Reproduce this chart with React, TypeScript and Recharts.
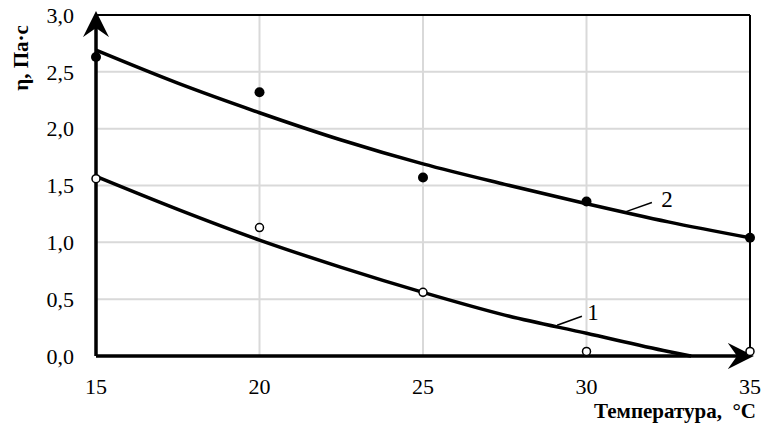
import React from 'react';
import {
  CartesianGrid,
  ComposedChart,
  Line,
  ReferenceLine,
  Scatter,
  XAxis,
  YAxis,
} from 'recharts';

// measured points, °C vs Pa·s
const temps = [15, 20, 25, 30, 35];
const etaSeries2 = [2.63, 2.32, 1.57, 1.36, 1.04]; // filled dots
const etaSeries1 = [1.56, 1.13, 0.56, 0.04, 0.04]; // open circles

// trend lines
const trend2X = [15, 17.5, 20, 22.5, 25, 27.5, 30, 32.5, 35];
const trend2Y = [2.69, 2.4, 2.14, 1.9, 1.69, 1.51, 1.34, 1.18, 1.04];
const trend1X = [15, 17.5, 20, 22.5, 25, 27.5, 30, 32.5, 33.2];
const trend1Y = [1.58, 1.29, 1.02, 0.78, 0.56, 0.36, 0.2, 0.04, 0];

const xTicks = [15, 20, 25, 30, 35];
const yTicks = [0, 0.5, 1, 1.5, 2, 2.5, 3];

// curve labels and their leader lines
const curveLabels = [
  { x: 30.2, y: 0.38, name: '1' },
  { x: 32.46, y: 1.38, name: '2' },
];
const leader1 = [
  { x: 29.1, y: 0.27 },
  { x: 29.86, y: 0.35 },
];
const leader2 = [
  { x: 31.21, y: 1.27 },
  { x: 32.0, y: 1.35 },
];

const FONT = '"Liberation Serif", "Times New Roman", serif';

const s2 = temps.map((x, i) => ({ x, y: etaSeries2[i] }));
const s1 = temps.map((x, i) => ({ x, y: etaSeries1[i] }));
const t2 = trend2X.map((x, i) => ({ x, y: trend2Y[i] }));
const t1 = trend1X.map((x, i) => ({ x, y: trend1Y[i] }));

const fmt = (v: number) => v.toFixed(1).replace('.', ',');

const FilledDot = (p: any) => <circle cx={p.cx} cy={p.cy} r={5} fill="#000" />;
const OpenDot = (p: any) => (
  <circle cx={p.cx} cy={p.cy} r={4} fill="#fff" stroke="#000" strokeWidth={1.5} />
);
const LabelText = (p: any) => (
  <text
    x={p.cx}
    y={p.cy}
    textAnchor="middle"
    dominantBaseline="central"
    fontFamily={FONT}
    fontSize={23}
    fill="#000"
  >
    {p.payload.name}
  </text>
);

export default function App() {
  return (
    <div style={{ position: 'absolute', left: 0, top: 0 }}>
      <ComposedChart
        width={767}
        height={433}
        margin={{ top: 15, right: 17, bottom: 0, left: 0 }}
      >
        <defs>
          <marker
            id="arrowHead"
            viewBox="0 0 20 20"
            refX="17"
            refY="10"
            markerWidth="26"
            markerHeight="26"
            markerUnits="userSpaceOnUse"
            orient="auto-start-reverse"
          >
            <path d="M0,0 L20,10 L0,20 L7,10 Z" fill="#000" />
          </marker>
        </defs>
        <CartesianGrid stroke="#d9d9d9" strokeWidth={2} />
        <XAxis
          type="number"
          dataKey="x"
          domain={[15, 35]}
          ticks={xTicks}
          height={77}
          tickSize={0}
          tickMargin={22}
          tickLine={false}
          axisLine={{ stroke: '#000', strokeWidth: 3.5, markerEnd: 'url(#arrowHead)' }}
          tick={{ fill: '#000', fontSize: 22, fontFamily: FONT }}
        />
        <YAxis
          type="number"
          dataKey="y"
          domain={[0, 3]}
          ticks={yTicks}
          width={96}
          tickSize={0}
          tickMargin={22}
          tickLine={false}
          tickFormatter={fmt}
          axisLine={{ stroke: '#000', strokeWidth: 3.5, markerStart: 'url(#arrowHead)' }}
          tick={{ fill: '#000', fontSize: 22, fontFamily: FONT }}
        />
        <ReferenceLine y={3} stroke="#000" strokeWidth={2} />
        <ReferenceLine x={35} stroke="#000" strokeWidth={2} />
        <Line
          data={t2}
          dataKey="y"
          type="monotone"
          stroke="#000"
          strokeWidth={3.5}
          dot={false}
          activeDot={false}
          isAnimationActive={false}
        />
        <Line
          data={t1}
          dataKey="y"
          type="monotone"
          stroke="#000"
          strokeWidth={3.5}
          dot={false}
          activeDot={false}
          isAnimationActive={false}
        />
        <Scatter data={s2} dataKey="y" shape={FilledDot} isAnimationActive={false} />
        <Scatter data={s1} dataKey="y" shape={OpenDot} isAnimationActive={false} />
        <ReferenceLine segment={leader1} stroke="#000" strokeWidth={1.5} />
        <ReferenceLine segment={leader2} stroke="#000" strokeWidth={1.5} />
        <Scatter data={curveLabels} dataKey="y" shape={LabelText} isAnimationActive={false} />
        <text
          x={21}
          y={58}
          transform="rotate(-90 21 58)"
          textAnchor="middle"
          dominantBaseline="central"
          fontFamily={FONT}
          fontWeight="bold"
          fontSize={21}
          fill="#000"
        >
          η, Па·с
        </text>
        <text
          x={756}
          y={418}
          textAnchor="end"
          fontFamily={FONT}
          fontWeight="bold"
          fontSize={21}
          fill="#000"
        >
          {'Температура,\u00a0 °C'}
        </text>
      </ComposedChart>
    </div>
  );
}
